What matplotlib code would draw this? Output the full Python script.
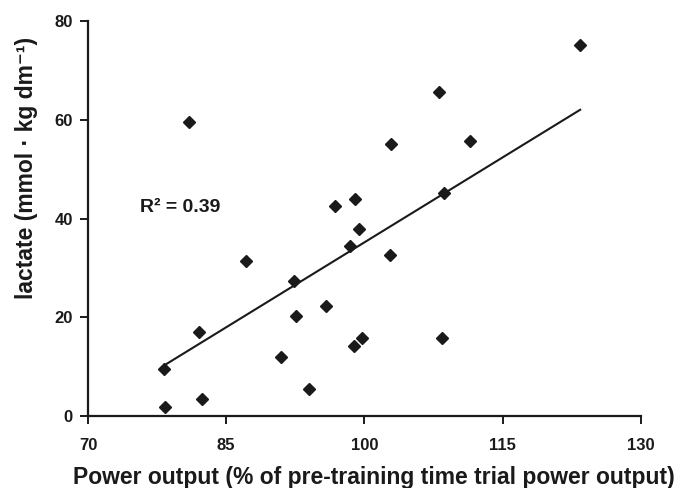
import numpy as np
import matplotlib
matplotlib.use("Agg")
import matplotlib.pyplot as plt

plt.rcParams['font.family'] = ['Liberation Sans', 'DejaVu Sans']

power = [78.4, 78.3, 82.0, 82.4, 87.1, 90.9, 92.3, 92.6, 94.0, 95.8, 81.0, 96.8,
         123.4, 108.1, 102.9, 111.4, 99.0, 99.4, 108.6, 98.4, 102.8, 98.9, 99.7, 108.4]
lactate = [1.9, 9.6, 17.1, 3.4, 31.4, 11.9, 27.4, 20.2, 5.4, 22.3, 59.5, 42.5,
           75.2, 65.6, 55.1, 55.7, 44.0, 37.9, 45.2, 34.4, 32.6, 14.2, 15.7, 15.9]
xticks = [70, 85, 100, 115, 130]
yticks = [0, 20, 40, 60, 80]

ink = '#1a1a1a'
fig = plt.figure(figsize=(6.79, 4.88), dpi=100)
ax = fig.add_axes([0.1296, 0.1475, 0.8144, 0.8095])

x = np.array(power)
y = np.array(lactate)
slope, intercept = np.polyfit(x, y, 1)
xs = np.array([x.min(), x.max()])
ax.plot(xs, slope * xs + intercept, color=ink, lw=1.5, zorder=2)
ax.plot(x, y, linestyle='none', marker='D', markersize=6, color=ink, zorder=3)

ax.text(75.6, 41.3, 'R² = 0.39', fontsize=14, fontweight='bold', color=ink,
        ha='left', va='baseline')

ax.set_xlim(70, 130)
ax.set_ylim(0, 80)
ax.set_xticks(xticks)
ax.set_yticks(yticks)
for s in ['top', 'right']:
    ax.spines[s].set_visible(False)
for s in ['left', 'bottom']:
    ax.spines[s].set_linewidth(1.6)
    ax.spines[s].set_color(ink)
ax.tick_params(direction='out', length=6, width=1.4, colors=ink, labelsize=12)
ax.tick_params(axis='x', pad=10)
ax.tick_params(axis='y', pad=5)
for lbl in ax.get_xticklabels() + ax.get_yticklabels():
    lbl.set_fontweight('bold')

ax.set_xlabel('Power output (% of pre-training time trial power output)',
              fontsize=16.5, fontweight='bold', color=ink)
ax.xaxis.label.set_va('baseline')
ax.xaxis.set_label_coords(0.517, -0.172)
ax.set_ylabel('lactate (mmol · kg dm⁻¹)', fontsize=16.5,
              fontweight='bold', color=ink)
ax.yaxis.label.set_va('center')
ax.yaxis.set_label_coords(-0.112, 0.628)

fig.savefig('out.png', dpi=100)
